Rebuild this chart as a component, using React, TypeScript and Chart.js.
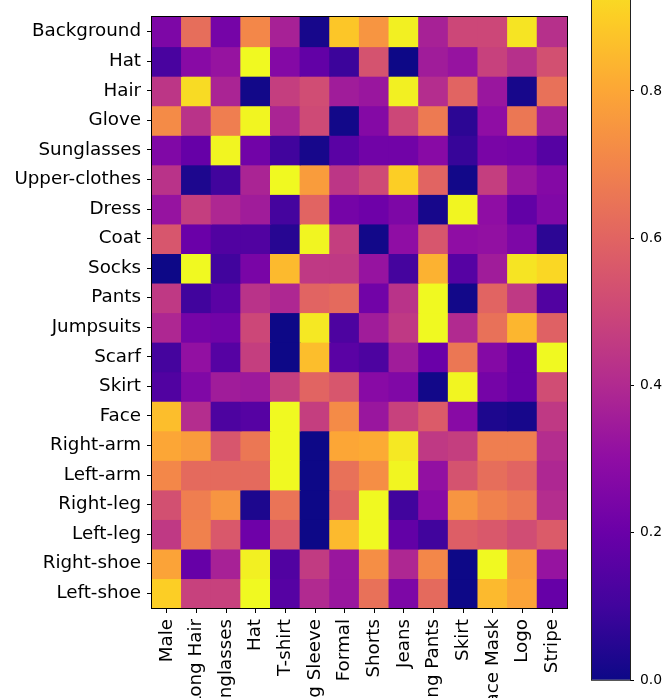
import React, { useEffect, useRef } from "react";
import { Chart, registerables } from "chart.js";

Chart.register(...registerables);

const rowLabels = [
  "Background", "Hat", "Hair", "Glove", "Sunglasses", "Upper-clothes", "Dress", "Coat",
  "Socks", "Pants", "Jumpsuits", "Scarf", "Skirt", "Face", "Right-arm", "Left-arm",
  "Right-leg", "Left-leg", "Right-shoe", "Left-shoe",
];

const colLabels = [
  "Male", "Long Hair", "Sunglasses", "Hat", "T-shirt", "Long Sleeve", "Formal", "Shorts",
  "Jeans", "Long Pants", "Skirt", "Face Mask", "Logo", "Stripe",
];

const background = [0.25, 0.63, 0.23, 0.71, 0.37, 0.02, 0.88, 0.75, 0.98, 0.37, 0.5, 0.5, 0.95, 0.42];
const hat = [0.12, 0.28, 0.32, 1.0, 0.27, 0.18, 0.09, 0.54, 0.0, 0.35, 0.32, 0.48, 0.42, 0.53];
const hair = [0.44, 0.93, 0.38, 0.01, 0.47, 0.52, 0.35, 0.33, 0.98, 0.41, 0.6, 0.33, 0.02, 0.64];
const glove = [0.72, 0.43, 0.68, 0.99, 0.38, 0.51, 0.01, 0.27, 0.5, 0.67, 0.06, 0.3, 0.66, 0.36];
const sunglasses = [0.26, 0.19, 0.99, 0.22, 0.1, 0.02, 0.16, 0.22, 0.22, 0.28, 0.08, 0.24, 0.23, 0.15];
const upperClothes = [0.43, 0.03, 0.1, 0.38, 1.0, 0.77, 0.44, 0.51, 0.9, 0.6, 0.01, 0.47, 0.33, 0.27];
const dress = [0.32, 0.47, 0.39, 0.35, 0.11, 0.6, 0.23, 0.21, 0.25, 0.02, 0.99, 0.3, 0.18, 0.26];
const coat = [0.55, 0.2, 0.14, 0.14, 0.05, 0.99, 0.47, 0.01, 0.3, 0.55, 0.3, 0.31, 0.25, 0.06];
const socks = [0.0, 1.0, 0.1, 0.24, 0.85, 0.45, 0.45, 0.32, 0.11, 0.83, 0.15, 0.35, 0.95, 0.92];
const pants = [0.45, 0.1, 0.16, 0.43, 0.39, 0.6, 0.62, 0.22, 0.43, 1.0, 0.01, 0.6, 0.45, 0.14];
const jumpsuits = [0.39, 0.23, 0.22, 0.5, 0.0, 0.96, 0.13, 0.35, 0.45, 1.0, 0.4, 0.64, 0.84, 0.59];
const scarf = [0.11, 0.31, 0.15, 0.47, 0.0, 0.86, 0.16, 0.13, 0.35, 0.2, 0.66, 0.27, 0.19, 1.0];
const skirt = [0.14, 0.26, 0.35, 0.34, 0.47, 0.6, 0.55, 0.28, 0.26, 0.01, 0.99, 0.23, 0.19, 0.52];
const face = [0.86, 0.41, 0.13, 0.15, 1.0, 0.47, 0.72, 0.33, 0.48, 0.57, 0.28, 0.03, 0.02, 0.45];
const rightArm = [0.8, 0.77, 0.55, 0.66, 1.0, 0.0, 0.8, 0.81, 0.96, 0.45, 0.47, 0.68, 0.68, 0.41];
const leftArm = [0.71, 0.62, 0.62, 0.62, 1.0, 0.0, 0.64, 0.73, 0.99, 0.31, 0.54, 0.63, 0.6, 0.39];
const rightLeg = [0.53, 0.68, 0.75, 0.03, 0.65, 0.0, 0.6, 1.0, 0.1, 0.28, 0.75, 0.69, 0.66, 0.41];
const leftLeg = [0.45, 0.69, 0.56, 0.21, 0.57, 0.0, 0.85, 1.0, 0.18, 0.1, 0.58, 0.56, 0.52, 0.57];
const rightShoe = [0.79, 0.19, 0.37, 0.98, 0.14, 0.46, 0.33, 0.73, 0.39, 0.71, 0.0, 1.0, 0.77, 0.32];
const leftShoe = [0.9, 0.48, 0.48, 1.0, 0.15, 0.4, 0.33, 0.64, 0.25, 0.62, 0.0, 0.85, 0.79, 0.19];

const rowValues = [
  background, hat, hair, glove, sunglasses, upperClothes, dress, coat, socks, pants,
  jumpsuits, scarf, skirt, face, rightArm, leftArm, rightLeg, leftLeg, rightShoe, leftShoe,
];

const colorbarTicks = [0.0, 0.2, 0.4, 0.6, 0.8];

// plasma colormap stops
const PLASMA = [
  "#0d0887", "#41049d", "#6a00a8", "#8f0da4", "#b12a90", "#cc4778",
  "#e16462", "#f2844b", "#fca636", "#fcce25", "#f0f921",
];

function hexToRgb(h: string) {
  return [parseInt(h.slice(1, 3), 16), parseInt(h.slice(3, 5), 16), parseInt(h.slice(5, 7), 16)];
}

function plasma(t: number) {
  const v = Math.max(0, Math.min(1, t)) * (PLASMA.length - 1);
  const i = Math.min(PLASMA.length - 2, Math.floor(v));
  const f = v - i;
  const a = hexToRgb(PLASMA[i]);
  const b = hexToRgb(PLASMA[i + 1]);
  const c = a.map((x, k) => Math.round(x + (b[k] - x) * f));
  return `rgb(${c[0]},${c[1]},${c[2]})`;
}

const FONT = "DejaVu Sans";

const framePlugin = {
  id: "frame",
  afterDatasetsDraw(chart: any) {
    const { ctx, chartArea } = chart;
    ctx.save();
    ctx.strokeStyle = "#000";
    ctx.lineWidth = 1;
    ctx.strokeRect(
      Math.round(chartArea.left) - 0.5,
      Math.round(chartArea.top) - 0.5,
      Math.round(chartArea.right - chartArea.left) + 1,
      Math.round(chartArea.bottom - chartArea.top) + 1
    );
    ctx.restore();
  },
};

const cbOutlinePlugin = {
  id: "cbOutline",
  afterDatasetsDraw(chart: any) {
    const { ctx, chartArea, scales } = chart;
    const y = scales.y;
    const top = y.getPixelForValue(1);
    const bottom = y.getPixelForValue(0);
    ctx.save();
    ctx.strokeStyle = "#222";
    ctx.lineWidth = 1;
    ctx.strokeRect(
      Math.round(chartArea.left) - 0.5,
      top,
      Math.round(chartArea.right - chartArea.left) + 1,
      Math.round(bottom - top) + 0.5
    );
    ctx.restore();
  },
};

export default function App() {
  const mainRef = useRef<HTMLCanvasElement>(null);
  const cbRef = useRef<HTMLCanvasElement>(null);

  useEffect(() => {
    document.body.style.margin = "0";
    document.body.style.overflow = "hidden";

    const main = new Chart(mainRef.current as HTMLCanvasElement, {
      type: "bar",
      data: {
        labels: colLabels,
        datasets: rowValues.map((vals, i) => ({
          label: rowLabels[i],
          data: vals.map(() => 1),
          backgroundColor: vals.map((v) => plasma(v)),
          borderWidth: 0,
          barPercentage: 1,
          categoryPercentage: 1,
          inflateAmount: 0.6,
        })),
      },
      options: {
        responsive: false,
        animation: false,
        devicePixelRatio: 1,
        layout: { padding: { left: 0, right: 95, top: 15, bottom: 0 } },
        plugins: { legend: { display: false }, tooltip: { enabled: false } },
        scales: {
          x: {
            stacked: true,
            grid: {
              display: true,
              offset: false,
              drawOnChartArea: false,
              drawTicks: true,
              tickLength: 5,
              color: "#000",
            },
            border: { display: false },
            ticks: {
              color: "#000",
              font: { family: FONT, size: 18.3 },
              maxRotation: 90,
              minRotation: 90,
              autoSkip: false,
              padding: 6,
            },
            afterFit: (s: any) => {
              s.height = 90;
            },
          },
          y: {
            type: "linear",
            stacked: true,
            min: 0,
            max: rowLabels.length,
            reverse: true,
            afterBuildTicks: (s: any) => {
              s.ticks = rowLabels.map((_, i) => ({ value: i + 0.5 }));
            },
            ticks: {
              color: "#000",
              font: { family: FONT, size: 18.3 },
              padding: 6,
              callback: (v: any) => rowLabels[Math.round(Number(v) - 0.5)],
            },
            grid: {
              display: true,
              drawOnChartArea: false,
              drawTicks: true,
              tickLength: 5,
              color: "#000",
            },
            border: { display: false },
            afterFit: (s: any) => {
              s.width = 152;
            },
          },
        },
      },
      plugins: [framePlugin],
    } as any);

    const cb = new Chart(cbRef.current as HTMLCanvasElement, {
      type: "bar",
      data: {
        labels: [""],
        datasets: [
          {
            data: [[0, 1]],
            backgroundColor: (ctx: any) => {
              const chart = ctx.chart;
              const area = chart.chartArea;
              if (!area) return PLASMA[0];
              const ys = chart.scales.y;
              const g = chart.ctx.createLinearGradient(0, ys.getPixelForValue(0), 0, ys.getPixelForValue(1));
              PLASMA.forEach((c, i) => g.addColorStop(i / (PLASMA.length - 1), c));
              return g;
            },
            borderWidth: 0,
            barPercentage: 1,
            categoryPercentage: 1,
          },
        ],
      },
      options: {
        responsive: false,
        animation: false,
        devicePixelRatio: 1,
        layout: { padding: { left: 592, right: 0, top: 0, bottom: 18 } },
        plugins: { legend: { display: false }, tooltip: { enabled: false } },
        scales: {
          x: { display: false },
          y: {
            position: "right",
            min: 0,
            max: 680 / 736.25,
            afterBuildTicks: (s: any) => {
              s.ticks = colorbarTicks.map((v) => ({ value: v }));
            },
            ticks: {
              color: "#000",
              font: { family: FONT, size: 13.9 },
              padding: 6,
              callback: (v: any) => Number(v).toFixed(1),
            },
            grid: {
              display: true,
              drawOnChartArea: false,
              drawTicks: true,
              tickLength: 4,
              color: "#000",
            },
            border: { display: false },
            afterFit: (s: any) => {
              s.width = 32;
              s.paddingTop = 0;
              s.paddingBottom = 0;
            },
          },
        },
      },
      plugins: [cbOutlinePlugin],
    } as any);

    return () => {
      main.destroy();
      cb.destroy();
    };
  }, []);

  return (
    <div style={{ position: "fixed", left: 0, top: 0, width: 662, height: 698, background: "#fff" }}>
      <canvas ref={mainRef} width={662} height={698} style={{ position: "absolute", left: 0, top: 0 }} />
      <canvas
        ref={cbRef}
        width={662}
        height={698}
        style={{ position: "absolute", left: 0, top: 0, pointerEvents: "none" }}
      />
    </div>
  );
}
